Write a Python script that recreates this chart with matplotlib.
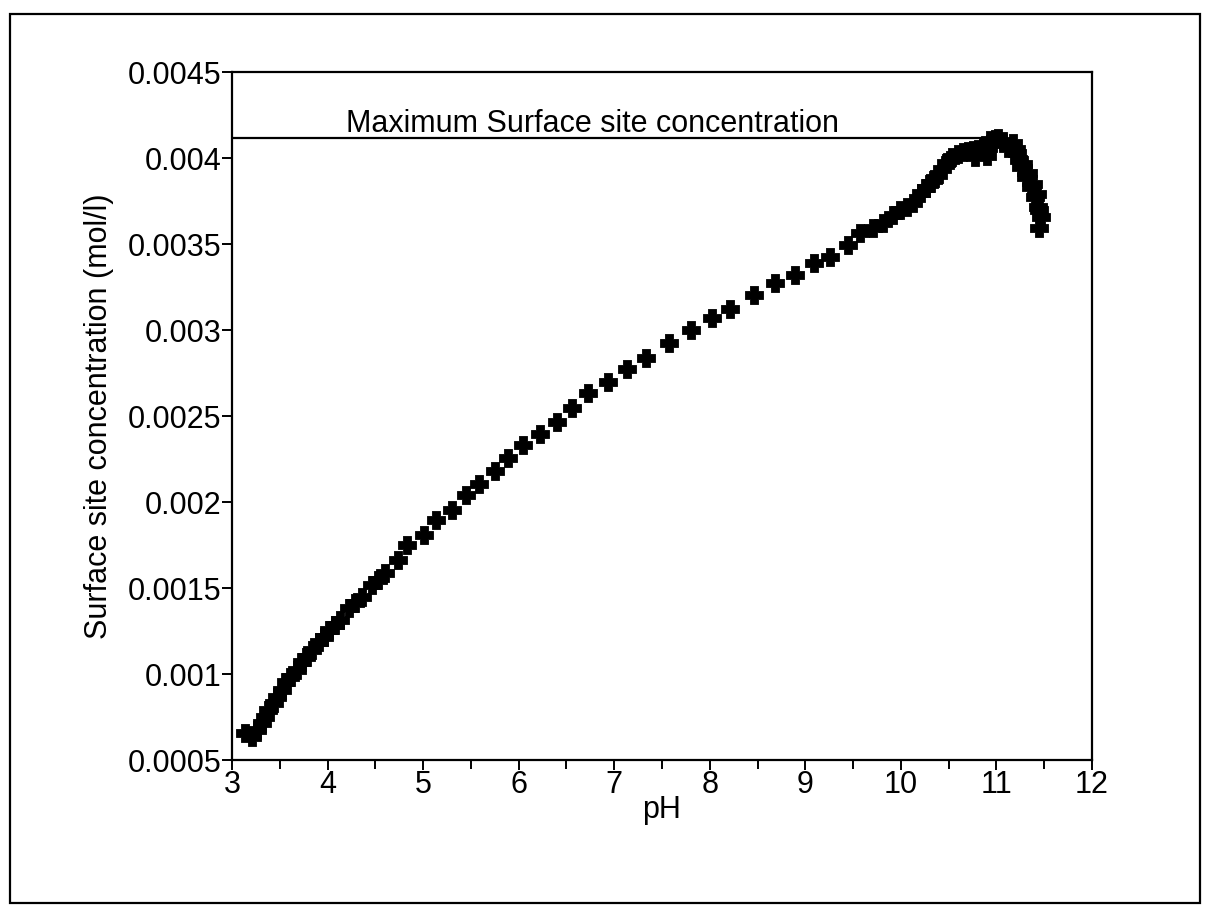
import matplotlib
matplotlib.use("Agg")
import matplotlib.pyplot as plt
from matplotlib.patches import Rectangle
from matplotlib.ticker import MultipleLocator, FixedLocator

plt.rcParams['font.family'] = ['Liberation Sans', 'DejaVu Sans']

# Titration data: pH vs surface site concentration (mol/l)
ph = [3.14, 3.21, 3.26, 3.31, 3.35, 3.38, 3.44, 3.47, 3.52, 3.56, 3.61, 3.68,
      3.73, 3.77, 3.84, 3.91, 3.96, 4.01, 4.08, 4.13, 4.22, 4.29, 4.36, 4.46,
      4.53, 4.60, 4.74, 4.83, 5.01, 5.14, 5.30, 5.45, 5.59, 5.75, 5.89, 6.05,
      6.22, 6.40, 6.56, 6.73, 6.93, 7.13, 7.33, 7.57, 7.80, 8.02, 8.21, 8.46,
      8.68, 8.89, 9.09, 9.26, 9.45, 9.57, 9.71, 9.81, 9.92, 9.99, 10.06, 10.13,
      10.21, 10.26, 10.30, 10.35, 10.39, 10.43, 10.47, 10.51, 10.54, 10.60,
      10.65, 10.70, 10.75, 10.78, 10.81, 10.86, 10.90, 10.93, 10.96, 10.98,
      11.02, 11.07, 11.12, 11.17, 11.20, 11.22, 11.24, 11.26, 11.28, 11.31,
      11.33, 11.36, 11.38, 11.40, 11.42, 11.43, 11.45, 11.47, 11.45]
conc = [0.655, 0.635, 0.674, 0.713, 0.752, 0.791, 0.830, 0.868, 0.907, 0.955,
        0.984, 1.023, 1.072, 1.101, 1.140, 1.188, 1.217, 1.256, 1.285, 1.314,
        1.382, 1.411, 1.449, 1.517, 1.547, 1.585, 1.663, 1.750, 1.808, 1.895,
        1.953, 2.041, 2.105, 2.180, 2.254, 2.331, 2.395, 2.467, 2.545, 2.632,
        2.699, 2.772, 2.835, 2.923, 3.000, 3.072, 3.124, 3.203, 3.272, 3.320,
        3.391, 3.426, 3.494, 3.562, 3.591, 3.620, 3.669, 3.698, 3.715, 3.737,
        3.795, 3.825, 3.853, 3.880, 3.901, 3.935, 3.969, 3.990, 4.008, 4.025,
        4.037, 4.042, 4.047, 4.005, 4.055, 4.066, 4.010, 4.105, 4.090, 4.110,
        4.115, 4.100, 4.060, 4.085, 4.050, 4.027, 3.990, 3.949, 3.965, 3.891,
        3.910, 3.833, 3.850, 3.775, 3.790, 3.717, 3.700, 3.659, 3.591]
conc = [c * 1e-3 for c in conc]

x_ticks = [3, 4, 5, 6, 7, 8, 9, 10, 11, 12]
y_ticks = [0.0005, 0.001, 0.0015, 0.002, 0.0025, 0.003, 0.0035, 0.004, 0.0045]
y_labels = ['0.0005', '0.001', '0.0015', '0.002', '0.0025', '0.003',
            '0.0035', '0.004', '0.0045']
max_label = 'Maximum Surface site concentration'

W, H = 1208, 913
FS = 22
fig = plt.figure(figsize=(W / 100, H / 100), dpi=100)
ax = fig.add_axes([232 / W, 1 - 760 / H, (1092 - 232) / W, (760 - 72) / H])

# thick filled cross marker
a, b = 0.22, 0.5
cross = [(-a, b), (a, b), (a, a), (b, a), (b, -a), (a, -a), (a, -b), (-a, -b),
         (-a, -a), (-b, -a), (-b, a), (-a, a), (-a, b)]
ax.plot(ph, conc, linestyle='none', marker=cross, markersize=13,
        color='black', markeredgewidth=0.6, markeredgecolor='black')

cmax = max(conc)
ax.hlines(cmax, 3, ph[conc.index(cmax)] - 0.1, color='black', linewidth=1.6)
ax.text(4.19, 0.00415, max_label, fontsize=FS, ha='left', va='baseline')

ax.set_xlim(3, 12)
ax.set_ylim(0.0005, 0.0045)
ax.xaxis.set_major_locator(FixedLocator(x_ticks))
ax.xaxis.set_minor_locator(MultipleLocator(0.5))
ax.yaxis.set_major_locator(FixedLocator(y_ticks))
ax.set_yticklabels(y_labels)
ax.tick_params(axis='both', which='major', direction='out', length=7.5,
               width=1.4, labelsize=FS, pad=0)
ax.tick_params(axis='x', which='minor', direction='out', length=6.5, width=1.4)
ax.tick_params(top=False, right=False)
for s in ax.spines.values():
    s.set_linewidth(1.6)

ax.set_xlabel('pH', fontsize=FS, labelpad=-4)
ax.set_ylabel('Surface site concentration (mol/l)', fontsize=FS, labelpad=10)

fig.patches.append(Rectangle((10 / W, 1 - 903 / H), 1190 / W, 889 / H,
                             transform=fig.transFigure, fill=False,
                             edgecolor='black', linewidth=1.6))

fig.savefig('out.png', dpi=100)
